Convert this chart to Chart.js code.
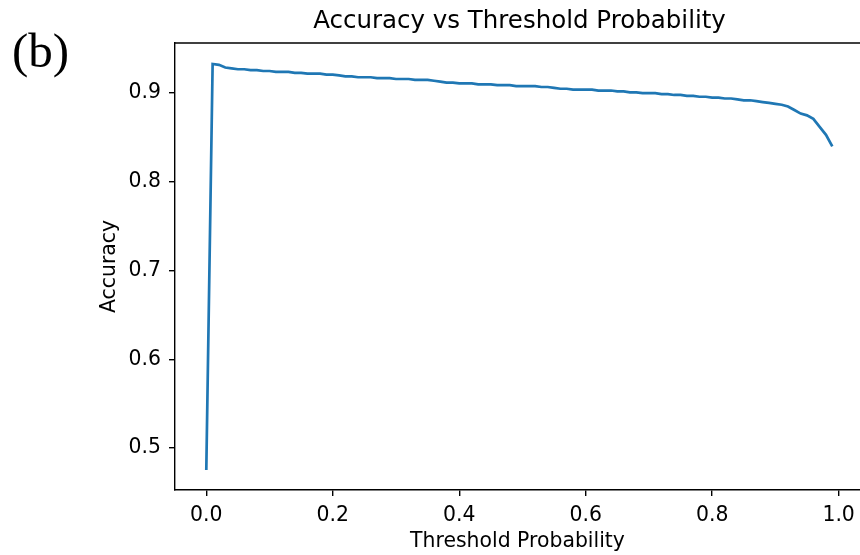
<!DOCTYPE html>
<html lang="en">

<head>
  <meta charset="UTF-8">
  <title>Accuracy vs Threshold Probability</title>
  <style>
    body { margin: 0; background: #fff; }
    .wrap { position: relative; width: 860px; height: 555px; }
    .painel { position: absolute; left: 12px; top: 26px; font-family: "Liberation Serif", serif; font-size: 49px; line-height: 49px; color: #000; }
  </style>
</head>

<body>
  <div class="wrap">
    <canvas id="myCanvas" width="860" height="555"></canvas>
    <div class="painel">(b)</div>
  </div>

  <script src="https://cdn.jsdelivr.net/npm/chart.js"></script>
  <script>
    // threshold values (x) and accuracy (y)
    const thresholds = [
      0.00, 0.01, 0.02, 0.03, 0.04, 0.05, 0.06, 0.07, 0.08, 0.09,
      0.10, 0.11, 0.12, 0.13, 0.14, 0.15, 0.16, 0.17, 0.18, 0.19,
      0.20, 0.21, 0.22, 0.23, 0.24, 0.25, 0.26, 0.27, 0.28, 0.29,
      0.30, 0.31, 0.32, 0.33, 0.34, 0.35, 0.36, 0.37, 0.38, 0.39,
      0.40, 0.41, 0.42, 0.43, 0.44, 0.45, 0.46, 0.47, 0.48, 0.49,
      0.50, 0.51, 0.52, 0.53, 0.54, 0.55, 0.56, 0.57, 0.58, 0.59,
      0.60, 0.61, 0.62, 0.63, 0.64, 0.65, 0.66, 0.67, 0.68, 0.69,
      0.70, 0.71, 0.72, 0.73, 0.74, 0.75, 0.76, 0.77, 0.78, 0.79,
      0.80, 0.81, 0.82, 0.83, 0.84, 0.85, 0.86, 0.87, 0.88, 0.89,
      0.90, 0.91, 0.92, 0.93, 0.94, 0.95, 0.96, 0.97, 0.98, 0.99
    ];
    const accuracy = [
      0.475, 0.933, 0.932, 0.929, 0.928, 0.927, 0.927, 0.926, 0.926, 0.925,
      0.925, 0.924, 0.924, 0.924, 0.923, 0.923, 0.922, 0.922, 0.922, 0.921,
      0.921, 0.920, 0.919, 0.919, 0.918, 0.918, 0.918, 0.917, 0.917, 0.917,
      0.916, 0.916, 0.916, 0.915, 0.915, 0.915, 0.914, 0.913, 0.912, 0.912,
      0.911, 0.911, 0.911, 0.910, 0.910, 0.910, 0.909, 0.909, 0.909, 0.908,
      0.908, 0.908, 0.908, 0.907, 0.907, 0.906, 0.905, 0.905, 0.904, 0.904,
      0.904, 0.904, 0.903, 0.903, 0.903, 0.902, 0.902, 0.901, 0.901, 0.900,
      0.900, 0.900, 0.899, 0.899, 0.898, 0.898, 0.897, 0.897, 0.896, 0.896,
      0.895, 0.895, 0.894, 0.894, 0.893, 0.892, 0.892, 0.891, 0.890, 0.889,
      0.888, 0.887, 0.885, 0.881, 0.877, 0.875, 0.871, 0.862, 0.853, 0.840
    ];
    const xTicks = [0.0, 0.2, 0.4, 0.6, 0.8, 1.0];
    const yTicks = [0.5, 0.6, 0.7, 0.8, 0.9];

    const titulo = 'Accuracy vs Threshold Probability';
    const corLinha = '#1f77b4';
    const fonte = 'DejaVu Sans';

    // top spine + title (matplotlib style frame, right side is cropped)
    const moldura = {
      id: 'moldura',
      afterDraw(chart) {
        const { ctx, chartArea } = chart;
        ctx.save();
        ctx.strokeStyle = '#000';
        ctx.lineWidth = 1.4;
        ctx.beginPath();
        ctx.moveTo(chartArea.left, chartArea.top);
        ctx.lineTo(chartArea.right, chartArea.top);
        ctx.stroke();
        ctx.fillStyle = '#000';
        ctx.font = '24.5px "' + fonte + '"';
        ctx.textAlign = 'center';
        ctx.textBaseline = 'middle';
        ctx.fillText(titulo, 519.5, 22);
        ctx.restore();
      }
    };

    const dados = thresholds.map((t, i) => ({ x: t, y: accuracy[i] }));

    const ctx = document.getElementById('myCanvas').getContext('2d');
    const chart = new Chart(ctx, {
      type: 'line',
      data: {
        datasets: [{
          label: 'Accuracy',
          data: dados,
          borderColor: corLinha,
          backgroundColor: corLinha,
          borderWidth: 2.7,
          pointRadius: 0,
          tension: 0,
          fill: false
        }]
      },
      options: {
        responsive: false,
        animation: false,
        layout: { padding: { top: 43, left: 0, right: 0, bottom: 0 } },
        plugins: {
          legend: { display: false },
          tooltip: { enabled: false }
        },
        scales: {
          x: {
            type: 'linear',
            min: -0.0495,
            max: 1.0338,
            afterFit: (s) => { s.height = 65; s.paddingLeft = 0; s.paddingRight = 0; },
            afterBuildTicks: (s) => { s.ticks = xTicks.map(v => ({ value: v })); },
            border: { display: true, color: '#000', width: 1.4 },
            grid: { drawOnChartArea: false, drawTicks: true, tickLength: 6, color: '#000', lineWidth: 1.4 },
            ticks: {
              padding: 7,
              color: '#000',
              font: { family: fonte, size: 20.4 },
              maxRotation: 0,
              callback: (v) => Number(v).toFixed(1)
            },
            title: {
              display: true,
              text: 'Threshold Probability',
              color: '#000',
              font: { family: fonte, size: 20.4 },
              padding: { top: 1, bottom: 1 }
            }
          },
          y: {
            type: 'linear',
            min: 0.4525,
            max: 0.9566,
            afterFit: (s) => { s.width = 175; s.paddingTop = 0; s.paddingBottom = 0; },
            afterBuildTicks: (s) => { s.ticks = yTicks.map(v => ({ value: v })); },
            border: { display: true, color: '#000', width: 1.4 },
            grid: { drawOnChartArea: false, drawTicks: true, tickLength: 6, color: '#000', lineWidth: 1.4 },
            ticks: {
              padding: 8,
              color: '#000',
              font: { family: fonte, size: 20.4 },
              callback: (v) => Number(v).toFixed(1)
            },
            title: {
              display: true,
              text: 'Accuracy',
              color: '#000',
              font: { family: fonte, size: 20.4 },
              padding: { top: 97, bottom: 97 }
            }
          }
        }
      },
      plugins: [moldura]
    });
  </script>
</body>

</html>
